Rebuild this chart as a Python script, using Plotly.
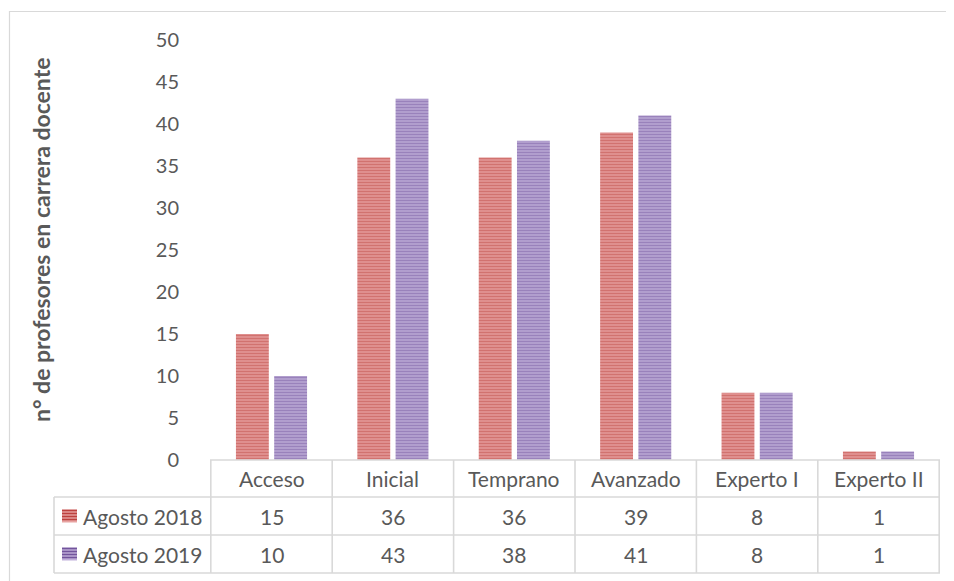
import plotly.graph_objects as go

# ---------------- data ----------------
categories = ["Acceso", "Inicial", "Temprano", "Avanzado", "Experto I", "Experto II"]
series_names = ["Agosto 2018", "Agosto 2019"]
values_2018 = [15, 36, 36, 39, 8, 1]
values_2019 = [10, 43, 38, 41, 8, 1]
y_ticks = [0, 5, 10, 15, 20, 25, 30, 35, 40, 45, 50]
y_title = "n° de profesores en carrera docente"

# ---------------- style ----------------
OFF = 8                                  # page body margin
W, H = 954 - OFF, 581 - OFF
L, R, T, B = 210, 940, 40, 460          # plot area in screenshot pixels
FONT = "Lato, 'Open Sans', sans-serif"
TXT = "#595959"
GRID = "#D9D9D9"
fg_colors = ["#BC413E", "#72549C"]
bg_colors = ["#E7A3A1", "#C1B0DA"]


def px(xp):
    return (xp - L) / (R - L)


def py(yp):
    return (B - yp) / (B - T)


fig = go.Figure()
series_values = [values_2018, values_2019]
for name, vals, fg, bg in zip(series_names, series_values, fg_colors, bg_colors):
    fig.add_trace(go.Bar(
        x=categories, y=vals, name=name,
        marker=dict(color=bg, line=dict(width=0),
                    pattern=dict(shape="-", fgcolor=fg, bgcolor=bg,
                                 size=3, solidity=0.6)),
        showlegend=False, hoverinfo="x+y+name",
    ))

shapes = []
annotations = []

# outer chart border (top and left visible)
shapes.append(dict(type="line", xref="paper", yref="paper",
                   x0=px(9), x1=px(970), y0=py(11.5), y1=py(11.5),
                   line=dict(color=GRID, width=1.2)))
shapes.append(dict(type="line", xref="paper", yref="paper",
                   x0=px(9.5), x1=px(9.5), y0=py(11), y1=py(600),
                   line=dict(color=GRID, width=1.2)))

# data table rows (pixel y of the row borders)
row_top, row1, row2, row_bot = 460, 497, 535, 573
tbl_left = 54
lw = 1.6
shapes.append(dict(type="line", xref="paper", yref="paper",
                   x0=0, x1=1, y0=py(row_top), y1=py(row_top),
                   line=dict(color=GRID, width=lw)))
for yy in (row1, row2, row_bot):
    shapes.append(dict(type="line", xref="paper", yref="paper",
                       x0=px(tbl_left), x1=1, y0=py(yy), y1=py(yy),
                       line=dict(color=GRID, width=lw)))
for i in range(len(categories) + 1):
    shapes.append(dict(type="line", xref="x", yref="paper",
                       x0=i - 0.5, x1=i - 0.5, y0=py(row_top), y1=py(row_bot),
                       line=dict(color=GRID, width=lw)))
shapes.append(dict(type="line", xref="paper", yref="paper",
                   x0=px(tbl_left), x1=px(tbl_left), y0=py(row1), y1=py(row_bot),
                   line=dict(color=GRID, width=lw)))

TBL_FONT = dict(family=FONT, size=21, color=TXT)

# header labels
for c in categories:
    annotations.append(dict(x=c, xref="x", y=py((row_top + row1) / 2), yref="paper",
                            text=c, showarrow=False, xanchor="center", yanchor="middle",
                            font=TBL_FONT))

# series rows
row_centers = [(row1 + row2) / 2, (row2 + row_bot) / 2]
for name, vals, fg, bg, yc in zip(series_names, series_values, fg_colors, bg_colors, row_centers):
    for c, v in zip(categories, vals):
        annotations.append(dict(x=c, xref="x", y=py(yc), yref="paper",
                                text=str(v), showarrow=False,
                                xanchor="center", yanchor="middle", font=TBL_FONT))
    annotations.append(dict(x=px(81), xref="paper", y=py(yc), yref="paper",
                            text=name, showarrow=False, xanchor="left", yanchor="middle",
                            font=TBL_FONT))
    # legend swatch
    sx0, sx1 = 62, 77
    sy0, sy1 = yc - 6.5, yc + 6.5
    shapes.append(dict(type="rect", xref="paper", yref="paper",
                       x0=px(sx0), x1=px(sx1), y0=py(sy1), y1=py(sy0),
                       fillcolor=bg, line=dict(width=0)))
    k = sy0 + 1
    while k < sy1:
        shapes.append(dict(type="line", xref="paper", yref="paper",
                           x0=px(sx0), x1=px(sx1), y0=py(k), y1=py(k),
                           line=dict(color=fg, width=1.6)))
        k += 3

# y-axis title
annotations.append(dict(x=px(41), xref="paper", y=py(240), yref="paper",
                        text="<b>" + y_title + "</b>", showarrow=False, textangle=-90,
                        xanchor="center", yanchor="middle",
                        font=dict(family=FONT, size=23, color=TXT)))

fig.update_layout(
    width=W, height=H,
    margin=dict(l=L - OFF, r=W - (R - OFF), t=T - OFF, b=H - (B - OFF), pad=0),
    paper_bgcolor="white", plot_bgcolor="white",
    barmode="group", bargap=0.37, bargroupgap=0.14,
    font=dict(family=FONT, size=20, color=TXT),
    shapes=shapes, annotations=annotations,
    xaxis=dict(showticklabels=False, showline=False, showgrid=False,
               zeroline=False, ticks=""),
    yaxis=dict(range=[0, 50], tickvals=y_ticks, showgrid=False, zeroline=False,
               showline=False, ticks="", ticklabelstandoff=30,
               tickfont=dict(family=FONT, size=20, color=TXT)),
)

fig.write_html("out.html")
